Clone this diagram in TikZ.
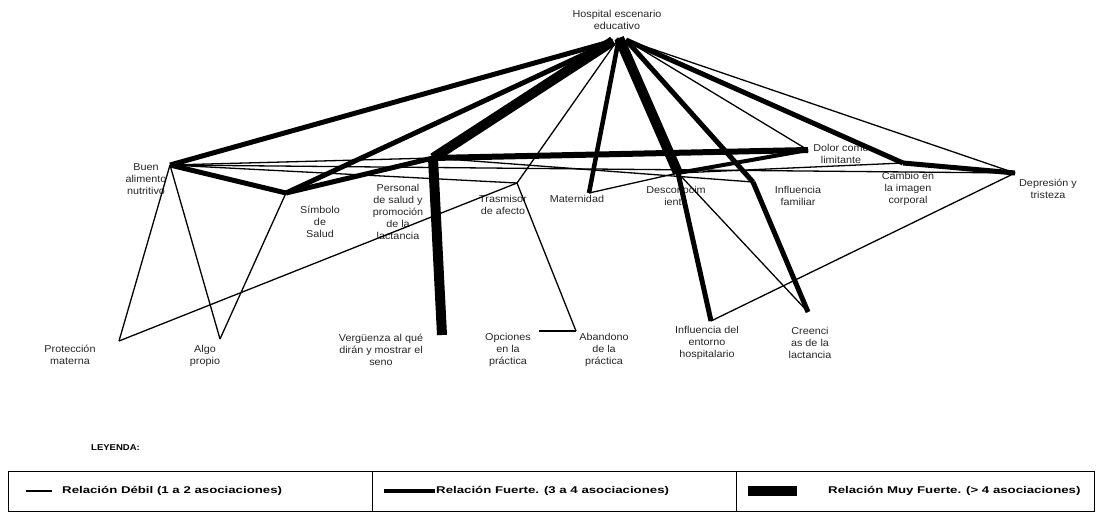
\documentclass[tikz,border=0pt]{standalone}
\usepackage{fontspec}
\setmainfont{Liberation Sans}
\newfontfamily\lblfont[FakeStretch=1.08]{Liberation Sans}
\newfontfamily\legfont[FakeStretch=1.35]{Liberation Sans}
\newfontfamily\headfont[FakeStretch=1.12]{Liberation Sans}
\begin{document}
\begin{tikzpicture}[x=1pt,y=-1pt,
  lbl/.style={font=\lblfont\fontsize{10}{12}\selectfont, align=center, text=black!85, inner sep=0pt},
  legtxt/.style={font=\legfont\fontsize{9.8}{12}\selectfont\bfseries, anchor=west, inner sep=0pt},
  weak/.style={line width=1.3pt},
  strong/.style={line width=5pt},
  vstrong/.style={line width=10pt},
  frame/.style={line width=0.8pt}
]
\useasboundingbox (0,0) rectangle (1100,523);

% ---- labels
\node[lbl] (hosL) at (617,20)  {Hospital escenario\\educativo};
\node[lbl] (bueL) at (146,179) {Buen\\alimento\\nutritivo};
\node[lbl] (simL) at (320,222) {Símbolo\\de\\Salud};
\node[lbl] (perL) at (398,212) {Personal\\de salud y\\promoción\\de la\\lactancia};
\node[lbl] (traL) at (503,205) {Trasmisor\\de afecto};
\node[lbl] (matL) at (577,199) {Maternidad};
\node[lbl] (desL) at (676,196) {Desconocim\\iento};
\node[lbl] (infL) at (798,196) {Influencia\\familiar};
\node[lbl] (dolL) at (841,154) {Dolor como\\limitante};
\node[lbl] (camL) at (908,189) {Cambio en\\la imagen\\corporal};
\node[lbl] (depL) at (1048,189) {Depresión y\\tristeza};
\node[lbl] (proL) at (70,355)  {Protección\\materna};
\node[lbl] (algL) at (205,356) {Algo\\propio};
\node[lbl] (verL) at (381,350) {Vergüenza al qué\\dirán y mostrar el\\seno};
\node[lbl] (opcL) at (508,350) {Opciones\\en la\\práctica};
\node[lbl] (abaL) at (604,350) {Abandono\\de la\\práctica};
\node[lbl] (entL) at (707,343) {Influencia del\\entorno\\hospitalario};
\node[lbl] (creL) at (810,343) {Creenci\\as de la\\lactancia};

% ---- junction points of the network
\coordinate (hosW) at (613,41);
\coordinate (hos)  at (619,38);
\coordinate (hosE) at (626,40);
\coordinate (bue) at (170,165);
\coordinate (sim) at (286,193);
\coordinate (per) at (433,158);
\coordinate (tra) at (517,183);
\coordinate (mat) at (589,193);
\coordinate (des) at (678,173);
\coordinate (inf) at (753,182);
\coordinate (dol) at (808,150);
\coordinate (cam) at (903,163);
\coordinate (dep) at (1015,173);
\coordinate (pro) at (119,341);
\coordinate (alg) at (220,339);
\coordinate (ver) at (442,335);
\coordinate (opc) at (539,331);
\coordinate (aba) at (576,331);
\coordinate (ent) at (711,321);
\coordinate (cre) at (808,312);

% ---- weak relations
\draw[weak] (hos) -- (tra);
\draw[weak] (hosE) -- (dol);
\draw[weak] (hosE) -- (dep);
\draw[weak] (bue) -- (per);
\draw[weak] (bue) -- (dep);
\draw[weak] (bue) -- (tra);
\draw[weak] (bue) -- (pro);
\draw[weak] (bue) -- (alg);
\draw[weak] (sim) -- (alg);
\draw[weak] (pro) -- (tra);
\draw[weak] (tra) -- (aba);
\draw[weak] (opc) -- (aba);
\draw[weak] (mat) -- (des);
\draw[weak] (per) -- (inf);
\draw[weak] (des) -- (cam);
\draw[weak] (des) -- (cre);
\draw[weak] (ent) -- (dep);

% ---- strong relations
\draw[strong] (hosW) -- (bue);
\draw[strong] (hosW) -- (sim);
\draw[strong, line width=4.5pt] (hos) -- (mat);
\draw[strong] (hosE) -- (inf);
\draw[strong] (hosE) -- (cam);
\draw[strong] (bue) -- (sim);
\draw[strong] (sim) -- (per);
\draw[strong, line width=6pt] (per) -- (dol);
\draw[strong, line width=4pt] (des) -- (dol);
\draw[strong] (cam) -- (dep);
\draw[strong] (des) -- (ent);
\draw[strong] (inf) -- (cre);

% ---- very strong relations
\draw[vstrong] (hosW) -- (per);
\draw[vstrong] (hos) -- (des);
\draw[vstrong] (per) -- (ver);

% ---- legend
\node[font=\headfont\fontsize{8.5}{10}\selectfont\bfseries, anchor=west, inner sep=0pt] (leyenda) at (91,448) {LEYENDA:};
\draw[frame] (8,471) rectangle (1094,511);
\draw[frame] (372,471) -- (372,511);
\draw[frame] (736,471) -- (736,511);

\coordinate (k1a) at (26,491);  \coordinate (k1b) at (52,491);
\coordinate (k2a) at (384,491); \coordinate (k2b) at (435,491);
\coordinate (k3a) at (748,491); \coordinate (k3b) at (797,491);
\draw[weak] (k1a) -- (k1b);
\draw[line width=4pt] (k2a) -- (k2b);
\draw[vstrong] (k3a) -- (k3b);
\node[legtxt] (t1) at (62,491)  {Relación Débil (1 a 2  asociaciones)};
\node[legtxt] (t2) at (436,491) {Relación Fuerte.  (3 a 4 asociaciones)};
\node[legtxt] (t3) at (828,491) {Relación  Muy Fuerte. (> 4 asociaciones)};
\end{tikzpicture}
\end{document}
